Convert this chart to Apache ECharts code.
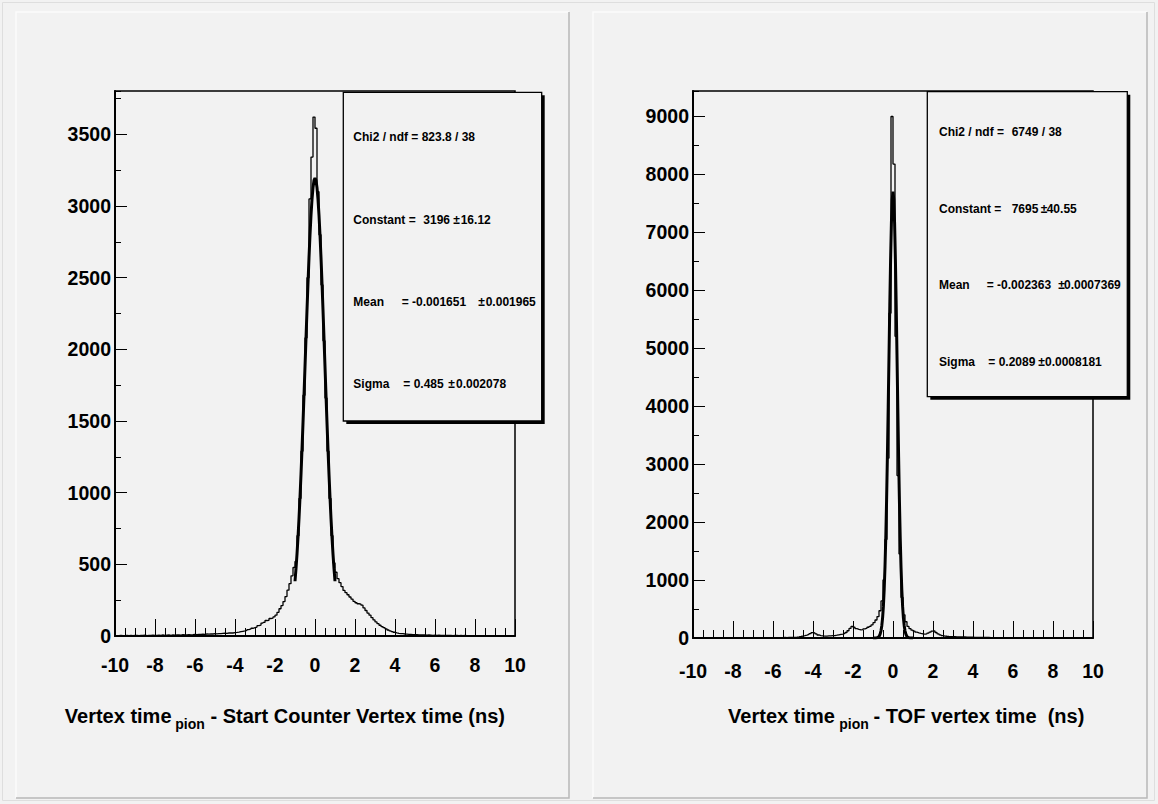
<!DOCTYPE html>
<html><head><meta charset="utf-8">
<script src="https://cdn.jsdelivr.net/npm/echarts@6/dist/echarts.min.js"></script>
<style>html,body{margin:0;padding:0;background:#f2f2f2;}#c{width:1158px;height:804px;}</style>
</head><body><div id="c"></div>
<script>
// ---- data ----
const xTickLabels = ['-10','-8','-6','-4','-2','0','2','4','6','8','10'];
// left histogram: 200 bins of 0.1 ns from -10 to 10
const leftCounts = [
 3,2,4,3,2,4,3,5,3,4,
 4,3,5,4,6,3,5,4,6,5,
 5,6,4,7,5,6,7,5,8,6,
 7,8,6,9,7,8,10,8,9,11,
 10,12,11,13,12,14,13,15,14,16,
 15,17,16,18,20,19,21,22,21,24,
 25,27,30,33,36,40,45,49,54,58,
 62,72,76,90,95,108,110,122,124,133,
 145,165,190,212,240,275,320,365,420,478,
 520,700,960,1290,1680,2080,2500,3050,3342,3621,
 3543,3100,2800,2450,2060,1660,1290,960,700,510,
 445,400,372,345,318,302,288,272,258,242,
 232,225,222,215,196,178,160,145,128,112,
 98,86,75,66,58,50,42,36,31,26,
 22,19,17,16,14,13,12,11,10,9,
 9,8,8,7,7,6,7,6,5,6,
 5,6,5,4,5,4,5,4,3,4,
 4,3,4,3,4,3,3,2,3,3,
 3,2,3,2,3,2,2,3,2,2,
 2,2,1,2,2,1,2,1,2,1];
// right histogram: 200 bins of 0.1 ns from -10 to 10
const rightCounts = [
 2,1,2,1,2,2,1,2,2,3,
 2,3,2,3,3,2,3,3,4,3,
 3,4,3,4,4,3,4,5,4,5,
 4,5,5,6,5,6,6,7,6,7,
 7,6,8,7,8,9,8,9,10,10,
 12,15,20,26,33,40,50,62,75,92,
 88,70,52,42,36,34,34,36,38,40,
 42,48,55,62,68,78,95,125,165,200,
 185,160,148,140,145,158,170,185,200,225,
 265,310,370,470,640,1000,1700,3100,5600,8990,
 8170,5200,2800,1450,700,400,280,200,160,135,
 120,100,88,78,70,68,72,85,100,118,
 122,95,72,55,42,34,30,27,25,23,
 22,21,20,19,18,17,16,15,14,13,
 12,12,11,11,10,10,9,9,8,8,
 8,7,7,6,6,6,5,5,5,5,
 5,4,4,4,4,3,4,3,3,3,
 3,3,3,2,3,2,2,3,2,2,
 2,2,2,2,1,2,2,1,2,1,
 1,2,1,1,2,1,1,1,1,1];
// gaussian fit curves, x from -1 to 1
const leftFit = [382,470,571,688,820,967,1128,1302,1487,1680,1879,2078,2275,2463,2640,2798,2936,3047,3129,3179,3196,3179,3129,3047,2936,2798,2640,2463,2275,2078,1879,1680,1487,1302,1128,967,820,688,571,470,382];
const rightFit = [0,0,1,1,2,5,10,20,38,70,124,212,347,549,837,1230,1743,2381,3134,3977,4866,5739,6525,7151,7555,7695,7555,7151,6525,5739,4866,3977,3134,2381,1743,1230,837,549,347,212,124,70,38,20,10,5,2,1,1,0,0];
const leftYMax = 3803, rightYMax = 9430;
const leftStats = [['Chi2 / ndf = 823.8 / 38'],['Constant =','3196','\u00b1','16.12'],['Mean','= -0.001651','\u00b1','0.001965'],['Sigma','= 0.485','\u00b1','0.002078']];
const rightStats = [['Chi2 / ndf =','6749 / 38'],['Constant =','7695','\u00b1','40.55'],['Mean','= -0.002363','\u00b1','0.0007369'],['Sigma','= 0.2089','\u00b1','0.0008181']];
const leftTitle = ['Vertex time','pion','- Start Counter Vertex time (ns)'];
const rightTitle = ['Vertex time','pion','- TOF vertex time  (ns)'];

// ---- build ----
const FONT = '"Liberation Sans", Arial, Helvetica, sans-serif';
function histPts(c){const p=[];for(let i=0;i<c.length;i++)p.push([(i-100)/10,c[i]]);p.push([10,c[c.length-1]]);return p;}
function fitPts(v){const n=v.length-1;return v.map((y,i)=>[-1+2*i/n,y]);}

const grids=[{left:115,top:91,width:400,height:545},{left:693,top:91,width:400,height:547}];
const lbl={color:'#000',fontFamily:FONT,fontWeight:'bold',fontSize:19.5};
function mainX(g,margin){return {gridIndex:g,type:'value',min:-10,max:10,interval:2,position:'bottom',
  axisLine:{show:true,onZero:false,lineStyle:{color:'#000',width:2}},
  axisTick:{show:true,inside:true,length:17,lineStyle:{color:'#000',width:1}},
  axisLabel:Object.assign({margin:margin,formatter:v=>{const i=Math.round((v+10)/2);return xTickLabels[i]??'';}},lbl),
  splitLine:{show:false}};}
function minorX(g){return {gridIndex:g,type:'value',min:-10,max:10,interval:0.5,position:'bottom',
  axisLine:{show:false,onZero:false},axisLabel:{show:false},splitLine:{show:false},
  axisTick:{show:true,inside:true,length:8,lineStyle:{color:'#000',width:1}}};}
function mainY(g,max,iv){return {gridIndex:g,type:'value',min:0,max:max,interval:iv,position:'left',
  axisLine:{show:true,onZero:false,lineStyle:{color:'#000',width:2}},
  axisTick:{show:true,inside:true,length:12,lineStyle:{color:'#000',width:1}},
  axisLabel:Object.assign({margin:4,showMaxLabel:false,formatter:v=>(v%iv===0?String(v):'')},lbl),
  splitLine:{show:false}};}
function minorY(g,max,iv){return {gridIndex:g,type:'value',min:0,max:max,interval:iv,position:'left',
  axisLine:{show:false,onZero:false},axisLabel:{show:false},splitLine:{show:false},
  axisTick:{show:true,inside:true,length:6,lineStyle:{color:'#000',width:1}}};}

const graphics=[];
// canvas / pad borders
graphics.push({type:'rect',z:0,shape:{x:2.5,y:2.5,width:1152,height:798},style:{fill:'none',stroke:'#dedede',lineWidth:1}});
[[16,12,553,786],[593,12,554,786]].forEach(r=>{
  graphics.push({type:'polyline',z:0,shape:{points:[[r[0],r[1]+r[3]],[r[0],r[1]],[r[0]+r[2],r[1]]]},style:{stroke:'#fbfbfb',lineWidth:1.5,fill:'none'}});
  graphics.push({type:'polyline',z:0,shape:{points:[[r[0]+r[2],r[1]],[r[0]+r[2],r[1]+r[3]],[r[0],r[1]+r[3]]]},style:{stroke:'#b8b8b8',lineWidth:1.5,fill:'none'}});
});
function statsBox(x,y,w,h,rows,xs,ys){
  graphics.push({type:'rect',z:50,shape:{x:x+3,y:y+3,width:w,height:h},style:{fill:'#000'}});
  graphics.push({type:'rect',z:51,shape:{x:x,y:y,width:w,height:h},style:{fill:'#f2f2f2',stroke:'#000',lineWidth:1.3}});
  rows.forEach((row,ri)=>row.forEach((t,ci)=>{
    graphics.push({type:'text',z:52,x:xs[ri][ci],y:ys[ri],style:{text:t,font:'bold 12px '+FONT,fill:'#000',align:'left',verticalAlign:'middle',textAlign:'left',textVerticalAlign:'middle'}});
  }));
}
statsBox(343.3,92.3,198.4,328.7,leftStats,
  [[353.3],[353.3,423.3,453.3,460.7],[353.3,401.7,478.3,485.7],[353.3,403.3,448.3,456]],
  [137.2,219.5,302,384]);
statsBox(927.3,91.7,200,305,rightStats,
  [[939,1011.7],[939,1011.7,1040.7,1046.7],[939,986.7,1058.3,1064],[939,988.3,1038.3,1045]],
  [131.7,209,285,361.7]);
function title(parts,x0,xs,xr){
  graphics.push({type:'text',z:10,x:x0,y:716,style:{text:parts[0],font:'bold 20px '+FONT,fill:'#000',align:'left',verticalAlign:'middle',textAlign:'left',textVerticalAlign:'middle'}});
  graphics.push({type:'text',z:10,x:xs,y:724,style:{text:parts[1],font:'bold 14px '+FONT,fill:'#000',align:'left',verticalAlign:'middle',textAlign:'left',textVerticalAlign:'middle'}});
  graphics.push({type:'text',z:10,x:xr,y:716,style:{text:parts[2],font:'bold 20px '+FONT,fill:'#000',align:'left',verticalAlign:'middle',textAlign:'left',textVerticalAlign:'middle'}});
}
title(leftTitle,64.8,175.2,210.5);
title(rightTitle,728.1,839.3,873.5);

const chart=echarts.init(document.getElementById('c'),null,{renderer:'svg'});
chart.setOption({
  backgroundColor:'#f2f2f2',
  animation:false,
  grid:grids.map(g=>Object.assign({show:true,borderColor:'#000',borderWidth:1.5,backgroundColor:'transparent'},g)),
  xAxis:[mainX(0,19),minorX(0),mainX(1,23),minorX(1)],
  yAxis:[mainY(0,leftYMax,500),minorY(0,leftYMax,250),mainY(1,rightYMax,1000),minorY(1,rightYMax,500)],
  series:[
    {type:'line',xAxisIndex:0,yAxisIndex:0,data:histPts(leftCounts),step:'end',symbol:'none',lineStyle:{color:'#000',width:1.3},z:3},
    {type:'line',xAxisIndex:0,yAxisIndex:0,data:fitPts(leftFit),symbol:'none',lineStyle:{color:'#000',width:3},z:4},
    {type:'line',xAxisIndex:2,yAxisIndex:2,data:histPts(rightCounts),step:'end',symbol:'none',lineStyle:{color:'#000',width:1.3},z:3},
    {type:'line',xAxisIndex:2,yAxisIndex:2,data:fitPts(rightFit),symbol:'none',lineStyle:{color:'#000',width:3},z:4}
  ],
  graphic:{elements:graphics}
});
</script></body></html>
